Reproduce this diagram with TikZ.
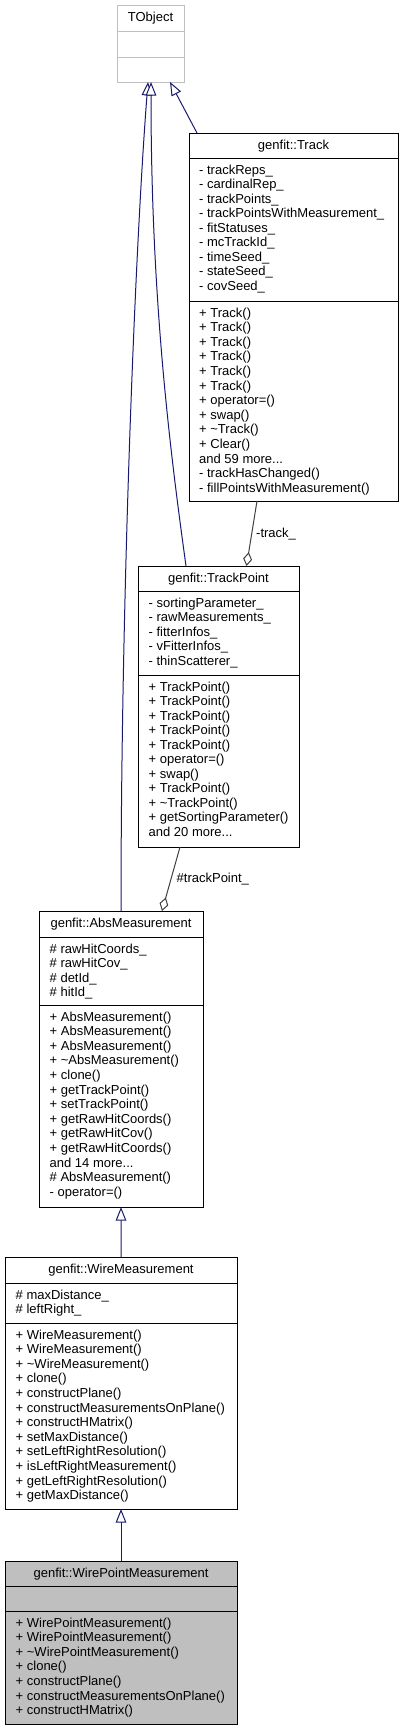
\documentclass[tikz,border=0pt]{standalone}
\usepackage{fontspec}
\setmainfont{Liberation Sans}
\usetikzlibrary{arrows.meta,calc}
\definecolor{edgeblue}{RGB}{25,25,112}
\definecolor{aggrgray}{RGB}{64,64,64}
\definecolor{lightframe}{RGB}{191,191,191}
\definecolor{hlfill}{RGB}{191,191,191}
\newcommand\mydots{...}
\tikzset{
  cls/.style={draw=black, line width=1bp, inner sep=0pt, outer sep=0pt, anchor=north west},
  sep/.style={draw=black, line width=1bp},
  txt/.style={inner sep=0pt, anchor=base west, font=\fontsize{13bp}{14.6bp}\selectfont},
  ttl/.style={inner sep=0pt, anchor=base, font=\fontsize{13bp}{14.6bp}\selectfont},
  inh/.style={draw=edgeblue, line width=1bp, {Triangle[length=13.5bp,width=10.5bp,fill=white]}-},
  aggr/.style={draw=aggrgray, line width=1bp, {Diamond[length=14bp,width=9bp,fill=white]}-},
}
\begin{document}
\begin{tikzpicture}[x=1bp,y=-1bp]
\useasboundingbox (0,0) rectangle (403,1731);

% ---------- TObject ----------
\node[cls, draw=lightframe, minimum width=67bp, minimum height=77bp] (tobject) at (117,5) {};
\draw[draw=lightframe, line width=1bp] (117,31) -- (184,31);
\draw[draw=lightframe, line width=1bp] (117,57) -- (184,57);
\node[ttl] (tobject-t) at (150.5,21.5) {TObject};

% ---------- genfit::Track ----------
\node[cls, minimum width=209bp, minimum height=368bp] (track) at (189,133) {};
\draw[sep] (189,158) -- (398,158);
\draw[sep] (189,301) -- (398,301);
\node[ttl] (track-t) at (293.5,149.5) {genfit::Track};
\foreach \t [count=\i] in {- trackReps\_, - cardinalRep\_, - trackPoints\_, - trackPointsWithMeasurement\_, - fitStatuses\_, - mcTrackId\_, - timeSeed\_, - stateSeed\_, - covSeed\_}
  \node[txt] (track-a\i) at (199,{174+(\i-1)*14.55}) {\t};
\foreach \t [count=\i] in {+ Track(), + Track(), + Track(), + Track(), + Track(), + Track(), + operator=(), + swap(), + \textasciitilde Track(), + Clear(), and 59 more\mydots, - trackHasChanged(), - fillPointsWithMeasurement()}
  \node[txt] (track-m\i) at (199,{317+(\i-1)*14.6}) {\t};

% ---------- genfit::TrackPoint ----------
\node[cls, minimum width=161bp, minimum height=281bp] (trackpoint) at (138,566) {};
\draw[sep] (138,591) -- (299,591);
\draw[sep] (138,675) -- (299,675);
\node[ttl] (trackpoint-t) at (218.5,582.5) {genfit::TrackPoint};
\foreach \t [count=\i] in {- sortingParameter\_, - rawMeasurements\_, - fitterInfos\_, - vFitterInfos\_, - thinScatterer\_}
  \node[txt] (trackpoint-a\i) at (148.5,{607+(\i-1)*14.55}) {\t};
\foreach \t [count=\i] in {+ TrackPoint(), + TrackPoint(), + TrackPoint(), + TrackPoint(), + TrackPoint(), + operator=(), + swap(), + TrackPoint(), + \textasciitilde TrackPoint(), + getSortingParameter(), and 20 more\mydots}
  \node[txt] (trackpoint-m\i) at (148.5,{691+(\i-1)*14.55}) {\t};

% ---------- genfit::AbsMeasurement ----------
\node[cls, minimum width=164bp, minimum height=296bp] (absm) at (39,911) {};
\draw[sep] (39,937) -- (203,937);
\draw[sep] (39,1005) -- (203,1005);
\node[ttl] (absm-t) at (121,927.5) {genfit::AbsMeasurement};
\foreach \t [count=\i] in {\# rawHitCoords\_, \# rawHitCov\_, \# detId\_, \# hitId\_}
  \node[txt] (absm-a\i) at (49.5,{953+(\i-1)*14.55}) {\t};
\foreach \t [count=\i] in {+ AbsMeasurement(), + AbsMeasurement(), + AbsMeasurement(), + \textasciitilde AbsMeasurement(), + clone(), + getTrackPoint(), + setTrackPoint(), + getRawHitCoords(), + getRawHitCov(), + getRawHitCoords(), and 14 more\mydots, \# AbsMeasurement(), - operator=()}
  \node[txt] (absm-m\i) at (49.5,{1021+(\i-1)*14.6}) {\t};

% ---------- genfit::WireMeasurement ----------
\node[cls, minimum width=232bp, minimum height=252bp] (wire) at (5,1257) {};
\draw[sep] (5,1283) -- (237,1283);
\draw[sep] (5,1323) -- (237,1323);
\node[ttl] (wire-t) at (121,1273.5) {genfit::WireMeasurement};
\foreach \t [count=\i] in {\# maxDistance\_, \# leftRight\_}
  \node[txt] (wire-a\i) at (15.5,{1299+(\i-1)*14.55}) {\t};
\foreach \t [count=\i] in {+ WireMeasurement(), + WireMeasurement(), + \textasciitilde WireMeasurement(), + clone(), + constructPlane(), + constructMeasurementsOnPlane(), + constructHMatrix(), + setMaxDistance(), + setLeftRightResolution(), + isLeftRightMeasurement(), + getLeftRightResolution(), + getMaxDistance()}
  \node[txt] (wire-m\i) at (15.5,{1339+(\i-1)*14.6}) {\t};

% ---------- genfit::WirePointMeasurement ----------
\node[cls, fill=hlfill, minimum width=232bp, minimum height=163bp] (wirep) at (5,1561) {};
\draw[sep] (5,1586) -- (237,1586);
\draw[sep] (5,1611) -- (237,1611);
\node[ttl] (wirep-t) at (121,1577.5) {genfit::WirePointMeasurement};
\foreach \t [count=\i] in {+ WirePointMeasurement(), + WirePointMeasurement(), + \textasciitilde WirePointMeasurement(), + clone(), + constructPlane(), + constructMeasurementsOnPlane(), + constructHMatrix()}
  \node[txt] (wirep-m\i) at (15.5,{1627+(\i-1)*14.6}) {\t};

% ---------- inheritance edges ----------
\draw[inh] ($(tobject.south west)+(31,0)$) .. controls (135,250) and (121,600) .. ($(absm.north west)+(82,0)$);
\draw[inh] ($(tobject.south west)+(34,0)$) .. controls (151,300) and (170,450) .. ($(trackpoint.north west)+(48,0)$);
\draw[inh] ($(tobject.south west)+(53,0)$) -- ($(track.north west)+(8,0)$);
\draw[inh] (absm.south) -- (wire.north);
\draw[inh] (wire.south) -- (wirep.north);

% ---------- aggregation edges ----------
\draw[aggr] ($(trackpoint.north west)+(108.5,0)$) -- ($(track.south west)+(68,0)$);
\node[txt] (lbl-track) at (256,537.5) {-track\_};
\draw[aggr] ($(absm.north west)+(123,0)$) -- ($(trackpoint.south west)+(42,0)$);
\node[txt] (lbl-trackpoint) at (176.5,882.5) {\#trackPoint\_};
\end{tikzpicture}
\end{document}
